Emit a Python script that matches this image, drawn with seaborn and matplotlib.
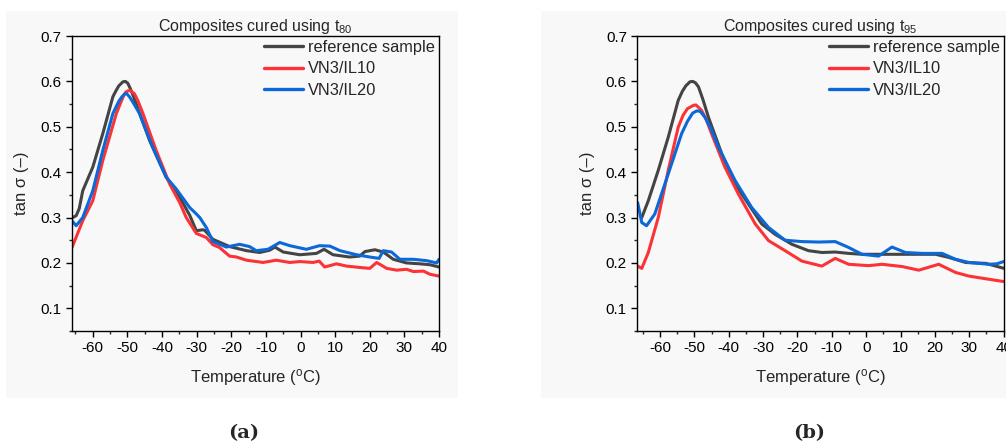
import numpy as np
import pandas as pd
import matplotlib
matplotlib.use("Agg")
import matplotlib.pyplot as plt
from matplotlib.patches import Rectangle
from matplotlib.ticker import MultipleLocator
import seaborn as sns

# ---------------- data: panel (a) t80 ----------------
a_ref_T = [-65.8, -64.8, -63.9, -62.9, -60.0, -57.1, -54.2, -53.4, -52.5, -51.3, -50.6, -49.9,
           -49.2, -48.3, -47.5, -43.6, -38.8, -34.9, -32.0, -30.1, -28.2, -27.7, -25.3, -20.5,
           -15.6, -11.8, -8.9, -7.4, -5.0, -0.2, 4.6, 6.8, 9.4, 14.2, 17.1, 18.6, 21.5, 23.9,
           26.8, 30.6, 34.5, 37.4, 40.0]
a_ref_v = [0.300, 0.304, 0.320, 0.359, 0.411, 0.485, 0.566, 0.578, 0.590, 0.599, 0.600, 0.596,
           0.585, 0.568, 0.551, 0.470, 0.389, 0.345, 0.305, 0.271, 0.273, 0.272, 0.252, 0.236,
           0.227, 0.223, 0.228, 0.235, 0.224, 0.218, 0.221, 0.230, 0.218, 0.213, 0.215, 0.225,
           0.229, 0.224, 0.208, 0.200, 0.198, 0.196, 0.191]

a_il10_T = [-66.0, -62.9, -60.0, -57.1, -53.2, -52.0, -51.0, -50.5, -49.9, -49.2, -48.0, -47.0,
            -45.5, -41.7, -37.8, -34.9, -33.0, -30.1, -27.2, -25.3, -23.4, -20.5, -18.5, -15.6,
            -10.8, -7.0, -3.1, -0.2, 3.6, 5.4, 7.0, 10.4, 13.3, 17.1, 20.0, 22.0, 24.9, 27.8,
            30.6, 32.6, 35.5, 37.4, 40.0]
a_il10_v = [0.234, 0.293, 0.337, 0.426, 0.529, 0.552, 0.570, 0.576, 0.579, 0.580, 0.573, 0.558,
            0.529, 0.448, 0.374, 0.333, 0.300, 0.265, 0.256, 0.240, 0.234, 0.215, 0.213, 0.206,
            0.201, 0.206, 0.201, 0.203, 0.201, 0.204, 0.191, 0.198, 0.193, 0.190, 0.188, 0.201,
            0.188, 0.184, 0.186, 0.181, 0.182, 0.175, 0.171]

a_il20_T = [-66.0, -64.8, -62.9, -60.0, -57.1, -54.2, -52.5, -51.6, -50.8, -50.2, -49.4, -48.3,
            -46.5, -42.7, -38.8, -35.9, -32.0, -30.1, -29.1, -27.2, -25.3, -21.4, -17.6, -14.7,
            -12.8, -9.4, -6.0, -3.1, 1.7, 5.5, 8.5, 11.4, 16.2, 20.0, 22.7, 23.9, 26.3, 28.7,
            32.6, 36.4, 39.3, 40.0]
a_il20_v = [0.293, 0.282, 0.300, 0.359, 0.448, 0.529, 0.556, 0.566, 0.572, 0.573, 0.566, 0.553,
            0.529, 0.455, 0.389, 0.363, 0.322, 0.308, 0.300, 0.278, 0.247, 0.235, 0.241, 0.236,
            0.227, 0.230, 0.245, 0.238, 0.230, 0.238, 0.237, 0.227, 0.218, 0.213, 0.210, 0.227,
            0.224, 0.208, 0.208, 0.205, 0.200, 0.208]

# ---------------- data: panel (b) t95 ----------------
b_ref_T = [-65.3, -63.4, -60.5, -57.6, -54.7, -53.5, -52.5, -51.3, -50.5, -49.7, -48.8, -47.5,
           -45.9, -42.0, -38.1, -34.3, -30.4, -26.5, -21.6, -16.8, -12.9, -9.0, -5.1, -1.2, 10.5,
           20.2, 24.1, 28.9, 34.8, 40.1]
b_ref_v = [0.300, 0.337, 0.404, 0.477, 0.558, 0.578, 0.590, 0.599, 0.600, 0.597, 0.588, 0.560,
           0.521, 0.440, 0.374, 0.330, 0.286, 0.263, 0.241, 0.227, 0.223, 0.224, 0.221, 0.219,
           0.219, 0.219, 0.212, 0.201, 0.199, 0.188]

b_il10_T = [-66.5, -65.3, -63.4, -60.5, -57.6, -54.7, -53.3, -52.0, -50.3, -49.5, -47.9, -46.5,
            -45.0, -41.1, -37.2, -32.3, -28.4, -23.6, -18.7, -12.9, -9.0, -5.1, 0.7, 4.6, 10.5,
            15.3, 21.1, 26.0, 29.9, 35.7, 40.0]
b_il10_v = [0.193, 0.188, 0.223, 0.300, 0.404, 0.499, 0.525, 0.540, 0.547, 0.548, 0.536, 0.515,
            0.485, 0.411, 0.352, 0.286, 0.249, 0.227, 0.204, 0.193, 0.210, 0.197, 0.194, 0.197,
            0.192, 0.184, 0.197, 0.179, 0.171, 0.164, 0.159]

b_il20_T = [-66.5, -65.3, -63.9, -61.5, -57.6, -53.7, -52.0, -50.5, -49.3, -48.3, -46.9, -45.0,
            -43.0, -38.1, -33.3, -28.4, -23.6, -18.7, -13.8, -9.0, -5.1, -1.2, 3.6, 7.5, 11.4,
            16.3, 22.1, 26.0, 29.9, 35.7, 38.0, 40.0]
b_il20_v = [0.333, 0.289, 0.282, 0.308, 0.396, 0.485, 0.512, 0.530, 0.535, 0.534, 0.521, 0.493,
            0.455, 0.381, 0.322, 0.278, 0.250, 0.247, 0.246, 0.247, 0.234, 0.219, 0.215, 0.235,
            0.223, 0.221, 0.221, 0.208, 0.201, 0.197, 0.198, 0.203]

series_names = ["reference sample", "VN3/IL10", "VN3/IL20"]
titles = [r"Composites cured using t$_{80}$", r"Composites cured using t$_{95}$"]
captions = ["(a)", "(b)"]
x_ticks = [-60, -50, -40, -30, -20, -10, 0, 10, 20, 30, 40]
y_ticks = [0.1, 0.2, 0.3, 0.4, 0.5, 0.6, 0.7]
colors = ["#444444", "#fb3236", "#0a68d8"]


def make_df(Ts, vs):
    frames = []
    for name, T, v in zip(series_names, Ts, vs):
        frames.append(pd.DataFrame({"T": T, "v": v, "sample": name}))
    return pd.concat(frames, ignore_index=True)


dfa = make_df([a_ref_T, a_il10_T, a_il20_T], [a_ref_v, a_il10_v, a_il20_v])
dfb = make_df([b_ref_T, b_il10_T, b_il20_T], [b_ref_v, b_il10_v, b_il20_v])

sns.set_style("ticks")
plt.rcParams["font.family"] = ["Liberation Sans", "DejaVu Sans"]
plt.rcParams["mathtext.fontset"] = "custom"
plt.rcParams["mathtext.rm"] = "Liberation Sans"
plt.rcParams["mathtext.it"] = "Liberation Sans"

W, H = 1006, 445
fig = plt.figure(figsize=(W / 100, H / 100), dpi=100)
fig.patch.set_facecolor("white")

bg = "#f8f8f8"
# panel backgrounds (pixel boxes converted to figure fraction), drawn beneath the axes
for (x0, x1) in [(6, 458), (541, 1006)]:
    rect = Rectangle((x0 / W, (H - 398) / H), (x1 - x0) / W, (398 - 11) / H,
                     transform=fig.transFigure, facecolor=bg, edgecolor="none", zorder=-10)
    fig.add_artist(rect)

ax_a = fig.add_axes([72 / W, (H - 331) / H, (439 - 72) / W, (331 - 36) / H])
ax_b = fig.add_axes([637.3 / W, (H - 331) / H, (1004 - 637.3) / W, (331 - 36) / H])

for ax, df, title, cap, xlim, capx in [
    (ax_a, dfa, titles[0], captions[0], (-66, 40), 244),
    (ax_b, dfb, titles[1], captions[1], (-66.6, 40.1), 809),
]:
    ax.set_zorder(1)
    ax.set_facecolor(bg)
    sns.lineplot(data=df, x="T", y="v", hue="sample", hue_order=series_names,
                 palette=colors, sort=False, estimator=None, units="sample",
                 linewidth=2.2, ax=ax)
    for ln in ax.get_lines():
        ln.set_solid_joinstyle("round")
        ln.set_solid_capstyle("round")
    ax.set_xlim(*xlim)
    ax.set_ylim(0.05, 0.7)
    ax.set_xticks(x_ticks)
    ax.set_xticklabels([str(t) for t in x_ticks])
    ax.set_yticks(y_ticks)
    ax.set_yticklabels([f"{t:.1f}" for t in y_ticks])
    ax.xaxis.set_minor_locator(MultipleLocator(5))
    ax.yaxis.set_minor_locator(MultipleLocator(0.05))
    ax.tick_params(axis="both", which="major", direction="out", length=4.5, width=1,
                   labelsize=11, colors="black", pad=3)
    ax.tick_params(axis="both", which="minor", direction="out", length=2.5, width=1)
    for s in ax.spines.values():
        s.set_visible(True)
        s.set_color("black")
        s.set_linewidth(1)
    ax.set_xlabel("Temperature ($^{\\rm o}$C)", fontsize=12, labelpad=8)
    ax.set_ylabel("tan σ (–)", fontsize=12, labelpad=8)
    ax.set_title(title, fontsize=11.5, pad=2.5)
    leg = ax.legend(loc="upper right", frameon=False, fontsize=11.8, handlelength=2.4,
                    handletextpad=0.3, labelspacing=0.38, borderaxespad=0.2,
                    borderpad=0.05)
    for line in leg.get_lines():
        line.set_linewidth(2.4)
    fig.text(capx / W, 1 - 433 / H, cap, ha="center", va="center", fontsize=14,
             fontweight="bold", family=["DejaVu Serif"])

fig.savefig("out.png", dpi=100, facecolor="white")
